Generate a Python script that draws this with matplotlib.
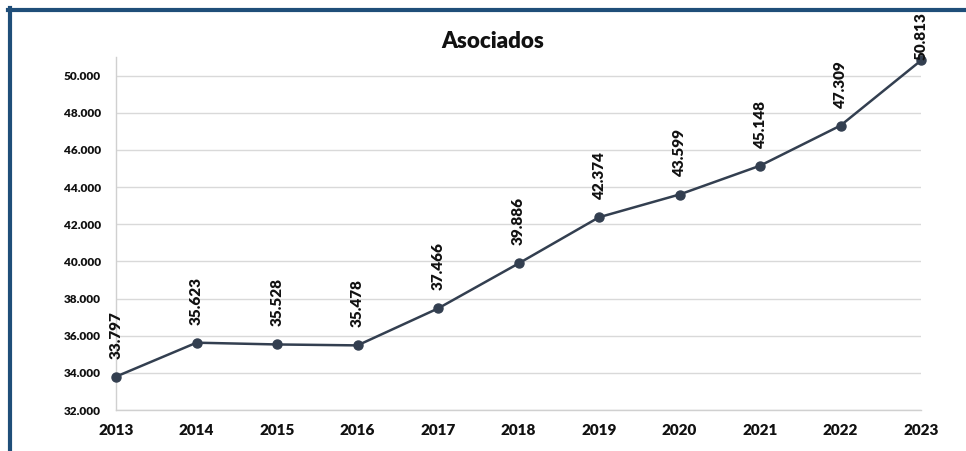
import matplotlib
matplotlib.use("Agg")
import matplotlib.pyplot as plt
from matplotlib.lines import Line2D

years = [2013, 2014, 2015, 2016, 2017, 2018, 2019, 2020, 2021, 2022, 2023]
asociados = [33797, 35623, 35528, 35478, 37466, 39886, 42374, 43599, 45148, 47309, 50813]
y_ticks = [32000, 34000, 36000, 38000, 40000, 42000, 44000, 46000, 48000, 50000]
title = "Asociados"

def fmt(v):
    return f"{v:,}".replace(",", ".")

plt.rcParams['font.family'] = ['Lato', 'DejaVu Sans']
W, H = 966, 451
fig = plt.figure(figsize=(W / 100, H / 100), dpi=100)
ax = fig.add_axes([116 / W, 1 - 410 / H, (921 - 116) / W, (410 - 57) / H])

line_color = '#333F50'
ax.plot(years, asociados, color=line_color, lw=1.8, marker='o', markersize=6.5, zorder=3, clip_on=False)

for i, (x, v) in enumerate(zip(years, asociados)):
    off = 13 if i < len(years) - 1 else 0
    ax.annotate(fmt(v), (x, v), xytext=(0, off), textcoords='offset points',
                rotation=90, ha='center', va='bottom', fontsize=11, fontweight='heavy',
                color='#111111', zorder=4, annotation_clip=False)

ax.set_xlim(years[0], years[-1])
ax.set_ylim(32000, 51000)
ax.set_yticks(y_ticks)
ax.set_yticklabels([fmt(t) for t in y_ticks])
ax.set_xticks(years)
ax.set_xticklabels([str(y) for y in years])
ax.grid(axis='y', color='#D9D9D9', lw=1)
ax.set_axisbelow(True)
for s in ['top', 'right']:
    ax.spines[s].set_visible(False)
for s in ['left', 'bottom']:
    ax.spines[s].set_color('#D0D0D0')
    ax.spines[s].set_linewidth(1)
ax.tick_params(axis='y', length=0, pad=11, labelsize=8.5)
ax.tick_params(axis='x', length=0, pad=10, labelsize=11)
for lab in ax.get_xticklabels() + ax.get_yticklabels():
    lab.set_fontweight('heavy')
    lab.set_color('#111111')

fig.text(493 / W, 1 - 41 / H, title, ha='center', va='center', fontsize=16, fontweight='heavy', color='#111111')

frame_color = '#1F4E79'
fig.add_artist(Line2D([8 / W, 1], [1 - 9.5 / H, 1 - 9.5 / H], color=frame_color, lw=3, transform=fig.transFigure))
fig.add_artist(Line2D([10 / W, 10 / W], [1 - 8 / H, 0], color=frame_color, lw=3, transform=fig.transFigure))

fig.savefig('out.png', dpi=100)
